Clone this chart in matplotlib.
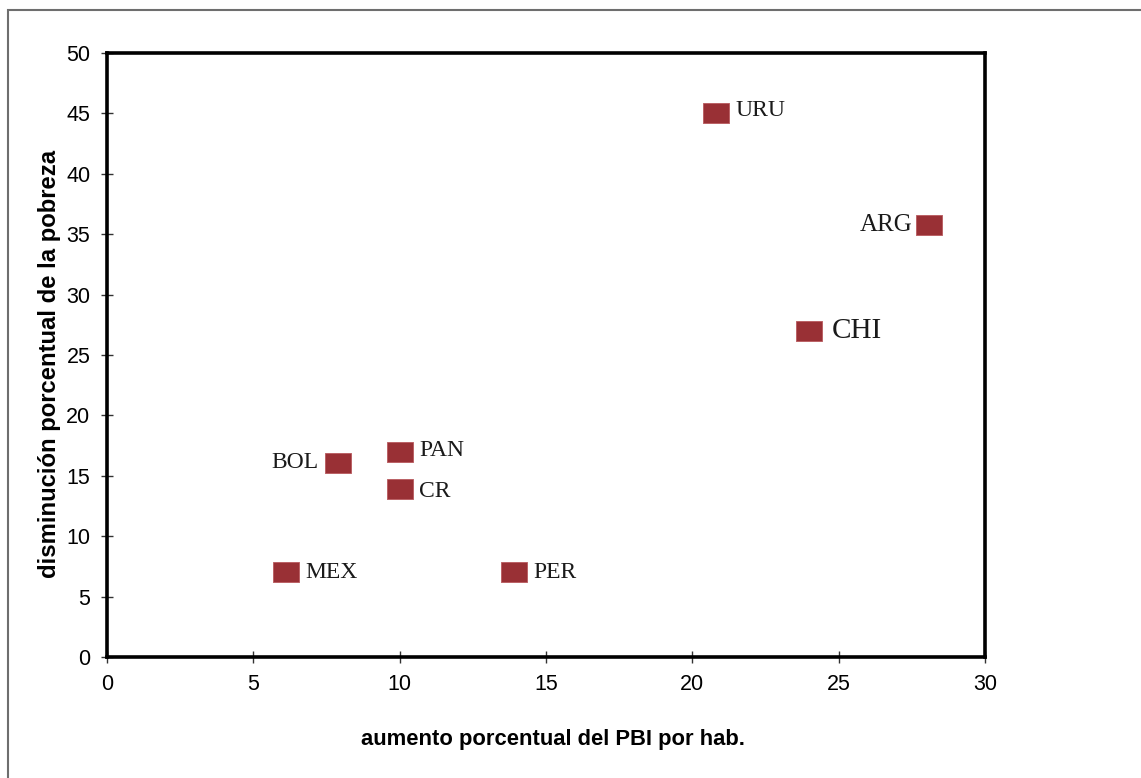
import matplotlib
matplotlib.use("Agg")
import matplotlib.pyplot as plt
from matplotlib.patches import Rectangle

# ----------------------------
# Data
# ----------------------------
paises = ["URU", "ARG", "CHI", "BOL", "PAN", "CR", "MEX", "PER"]
pbi = [20.8, 28.1, 24.0, 7.9, 10.0, 10.0, 6.1, 13.9]
pobreza = [45.0, 35.8, 27.0, 16.1, 17.0, 13.9, 7.0, 7.0]

# label offsets (points) and sizes
offsets = {"URU": (14, 2), "ARG": (-12, 0), "CHI": (16, 0), "BOL": (-14, 0),
           "PAN": (14, 1), "CR": (14, -2), "MEX": (14, 0), "PER": (14, 0)}
aligns = {"ARG": "right", "BOL": "right"}
sizes = {"ARG": 18, "CHI": 21}

# ----------------------------
# Figure
# ----------------------------
fig = plt.figure(figsize=(11.41, 7.78), dpi=100)
fig.patches.append(Rectangle((8 / 1141, -0.1), 1.2, 1.1 - 10 / 778,
                             transform=fig.transFigure, fill=False,
                             edgecolor="#6e6e6e", linewidth=1.5))

ax = fig.add_axes([107 / 1141, 1 - 657 / 778, 878 / 1141, 604 / 778])

rect = [(-1.25, -1), (1.25, -1), (1.25, 1), (-1.25, 1), (-1.25, -1)]
ax.scatter(pbi, pobreza, marker=rect, s=330, color="#993035",
           edgecolors="#b85a5e", linewidths=0.6, zorder=3)

for p, x, y in zip(paises, pbi, pobreza):
    ax.annotate(p, (x, y), xytext=offsets[p], textcoords="offset points",
                ha=aligns.get(p, "left"), va="center",
                fontsize=sizes.get(p, 17), family="Liberation Serif",
                color="#1a1a1a")

ax.set_xlim(0, 30)
ax.set_ylim(0, 50)
ax.set_xticks(range(0, 31, 5))
ax.set_yticks(range(0, 51, 5))

for s in ax.spines.values():
    s.set_linewidth(2.6)
    s.set_color("black")

ax.tick_params(direction="inout", length=8, width=1, color="#333333",
               labelsize=15.5, pad=8)
for lbl in ax.get_xticklabels() + ax.get_yticklabels():
    lbl.set_family("Liberation Sans")

ax.set_xlabel("aumento porcentual del PBI por hab.", fontsize=15.8,
              fontweight="bold", family="Liberation Sans")
ax.set_ylabel("disminución porcentual de la pobreza", fontsize=17.2,
              fontweight="bold", family="Liberation Sans")
ax.xaxis.set_label_coords(0.508, -0.119)
ax.yaxis.set_label_coords(-0.052, 0.485)

fig.savefig("out.png", dpi=100)
